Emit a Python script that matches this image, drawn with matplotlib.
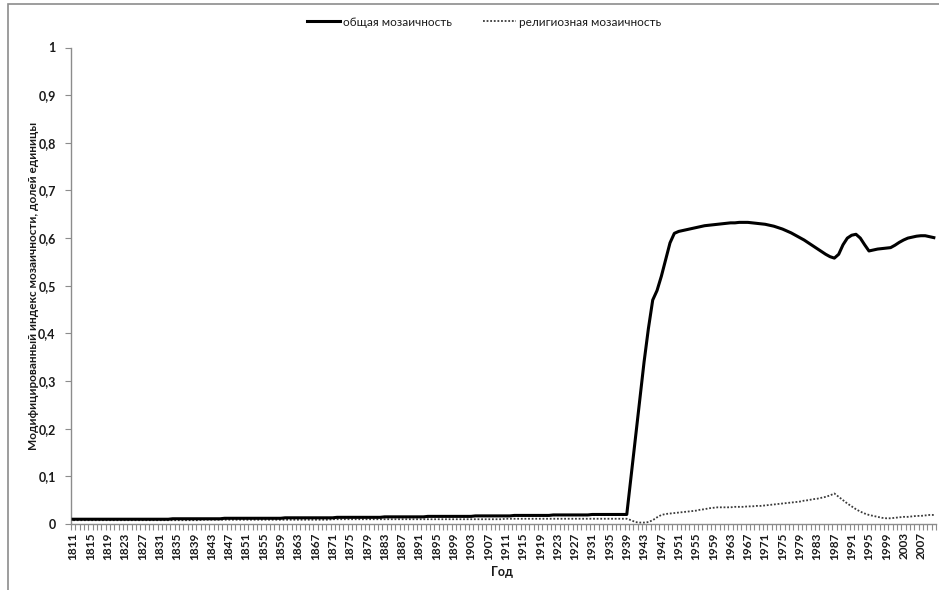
import matplotlib
matplotlib.use("Agg")
import matplotlib.pyplot as plt
from matplotlib.patches import Rectangle
from matplotlib.ticker import FixedLocator, FuncFormatter

plt.rcParams['font.family'] = ['Lato', 'DejaVu Sans']

years = list(range(1811, 2011))

# Общая мозаичность, по годам (строки по десятилетиям)
total_mosaic = [
    0.010, 0.010, 0.010, 0.010, 0.010, 0.010, 0.010, 0.010, 0.010, 0.010,  # 1811-1820
    0.010, 0.010, 0.010, 0.010, 0.010, 0.010, 0.010, 0.010, 0.010, 0.010,  # 1821-1830
    0.010, 0.010, 0.010, 0.011, 0.011, 0.011, 0.011, 0.011, 0.011, 0.011,  # 1831-1840
    0.011, 0.011, 0.011, 0.011, 0.011, 0.012, 0.012, 0.012, 0.012, 0.012,  # 1841-1850
    0.012, 0.012, 0.012, 0.012, 0.012, 0.012, 0.012, 0.012, 0.012, 0.013,  # 1851-1860
    0.013, 0.013, 0.013, 0.013, 0.013, 0.013, 0.013, 0.013, 0.013, 0.013,  # 1861-1870
    0.013, 0.014, 0.014, 0.014, 0.014, 0.014, 0.014, 0.014, 0.014, 0.014,  # 1871-1880
    0.014, 0.014, 0.015, 0.015, 0.015, 0.015, 0.015, 0.015, 0.015, 0.015,  # 1881-1890
    0.015, 0.015, 0.016, 0.016, 0.016, 0.016, 0.016, 0.016, 0.016, 0.016,  # 1891-1900
    0.016, 0.016, 0.016, 0.017, 0.017, 0.017, 0.017, 0.017, 0.017, 0.017,  # 1901-1910
    0.017, 0.017, 0.018, 0.018, 0.018, 0.018, 0.018, 0.018, 0.018, 0.018,  # 1911-1920
    0.018, 0.019, 0.019, 0.019, 0.019, 0.019, 0.019, 0.019, 0.019, 0.019,  # 1921-1930
    0.020, 0.020, 0.020, 0.020, 0.020, 0.020, 0.020, 0.020, 0.020, 0.100,  # 1931-1940
    0.180, 0.260, 0.340, 0.410, 0.470, 0.490, 0.520, 0.555, 0.590, 0.610,  # 1941-1950
    0.614, 0.616, 0.618, 0.620, 0.622, 0.624, 0.626, 0.627, 0.628, 0.629,  # 1951-1960
    0.630, 0.631, 0.632, 0.632, 0.633, 0.633, 0.633, 0.632, 0.631, 0.630,  # 1961-1970
    0.629, 0.627, 0.625, 0.622, 0.619, 0.615, 0.611, 0.606, 0.601, 0.596,  # 1971-1980
    0.590, 0.584, 0.578, 0.572, 0.566, 0.561, 0.558, 0.566, 0.586, 0.600,  # 1981-1990
    0.606, 0.608, 0.600, 0.586, 0.573, 0.575, 0.577, 0.578, 0.579, 0.580,  # 1991-2000
    0.585, 0.591, 0.596, 0.600, 0.602, 0.604, 0.605, 0.605, 0.603, 0.601,  # 2001-2010
]

# Религиозная мозаичность, по годам
religious_mosaic = [
    0.008, 0.008, 0.008, 0.008, 0.008, 0.008, 0.008, 0.008, 0.008, 0.008,  # 1811-1820
    0.008, 0.008, 0.008, 0.008, 0.008, 0.008, 0.008, 0.008, 0.008, 0.008,  # 1821-1830
    0.008, 0.008, 0.008, 0.008, 0.008, 0.008, 0.008, 0.008, 0.008, 0.008,  # 1831-1840
    0.009, 0.009, 0.009, 0.009, 0.009, 0.009, 0.009, 0.009, 0.009, 0.009,  # 1841-1850
    0.009, 0.009, 0.009, 0.009, 0.009, 0.009, 0.009, 0.009, 0.009, 0.009,  # 1851-1860
    0.009, 0.009, 0.009, 0.009, 0.009, 0.009, 0.009, 0.009, 0.009, 0.009,  # 1861-1870
    0.010, 0.010, 0.010, 0.010, 0.010, 0.010, 0.010, 0.010, 0.010, 0.010,  # 1871-1880
    0.010, 0.010, 0.010, 0.010, 0.010, 0.010, 0.010, 0.010, 0.010, 0.010,  # 1881-1890
    0.010, 0.010, 0.010, 0.010, 0.010, 0.010, 0.010, 0.010, 0.010, 0.010,  # 1891-1900
    0.010, 0.010, 0.010, 0.010, 0.010, 0.010, 0.010, 0.010, 0.010, 0.010,  # 1901-1910
    0.011, 0.011, 0.011, 0.011, 0.011, 0.011, 0.011, 0.011, 0.011, 0.011,  # 1911-1920
    0.011, 0.011, 0.011, 0.011, 0.011, 0.011, 0.011, 0.011, 0.011, 0.011,  # 1921-1930
    0.011, 0.011, 0.011, 0.011, 0.011, 0.011, 0.011, 0.011, 0.011, 0.008,  # 1931-1940
    0.004, 0.003, 0.003, 0.004, 0.008, 0.014, 0.019, 0.021, 0.022, 0.023,  # 1941-1950
    0.024, 0.025, 0.026, 0.027, 0.028, 0.030, 0.031, 0.033, 0.034, 0.035,  # 1951-1960
    0.035, 0.035, 0.035, 0.036, 0.036, 0.036, 0.037, 0.037, 0.038, 0.038,  # 1961-1970
    0.039, 0.040, 0.041, 0.042, 0.043, 0.044, 0.045, 0.046, 0.047, 0.049,  # 1971-1980
    0.050, 0.052, 0.053, 0.055, 0.057, 0.060, 0.064, 0.057, 0.050, 0.043,  # 1981-1990
    0.037, 0.031, 0.026, 0.022, 0.019, 0.017, 0.015, 0.013, 0.012, 0.012,  # 1991-2000
    0.013, 0.014, 0.015, 0.015, 0.016, 0.017, 0.017, 0.018, 0.019, 0.019,  # 2001-2010
]

y_ticks = [0.0, 0.1, 0.2, 0.3, 0.4, 0.5, 0.6, 0.7, 0.8, 0.9, 1.0]
label_years = years[::4]

W, H = 939, 590
fig = plt.figure(figsize=(W / 100, H / 100), dpi=100)

# Рамка области диаграммы
fig.patches.append(Rectangle((8 / W, -0.05), 1.1, (H - 4) / H + 0.05,
                             transform=fig.transFigure, fill=False,
                             edgecolor='#8c8c8c', linewidth=1.2))

ax = fig.add_axes([71 / W, (H - 524) / H, (936 - 71) / W, (524 - 47.5) / H])

ax.plot(years, religious_mosaic, color='#3a3a3a', linewidth=1.3,
        linestyle=(0, (1, 1)), label='религиозная мозаичность', zorder=2)
ax.plot(years, total_mosaic, color='black', linewidth=2.2,
        label='общая мозаичность', zorder=3, solid_joinstyle='round')

ax.set_xlim(years[0] - 0.5, years[-1] + 0.5)
ax.set_ylim(0, 1)

for side in ('top', 'right'):
    ax.spines[side].set_visible(False)
for side in ('left', 'bottom'):
    ax.spines[side].set_color('#8c8c8c')
    ax.spines[side].set_linewidth(1.0)

ax.set_yticks(y_ticks)
ax.yaxis.set_major_formatter(FuncFormatter(
    lambda v, p: ('%g' % round(v, 1)).replace('.', ',')))
ax.tick_params(axis='y', direction='out', length=4, color='#8c8c8c',
               labelsize=9, pad=7, labelcolor='#1a1a1a')
for lab in ax.get_yticklabels():
    lab.set_fontweight('bold')

# Подписи лет каждые 4 года, деления на границах категорий
ax.xaxis.set_major_locator(FixedLocator(label_years))
ax.xaxis.set_major_formatter(FuncFormatter(lambda v, p: str(int(round(v)))))
ax.xaxis.set_minor_locator(FixedLocator([y - 0.5 for y in years] + [years[-1] + 0.5]))
ax.tick_params(axis='x', which='major', length=0, labelsize=8.5, pad=6,
               labelrotation=90, labelcolor='#1a1a1a')
ax.tick_params(axis='x', which='minor', direction='out', length=4,
               color='#8c8c8c', width=0.8)
for lab in ax.get_xticklabels():
    lab.set_fontweight('bold')

ax.set_ylabel('Модифицированный индекс мозаичности, долей единицы',
              fontsize=8.5, fontweight='bold', color='#1a1a1a',
              va='center')
ax.yaxis.set_label_coords((34 - 71) / (936 - 71), 0.5)
ax.set_xlabel('Год', fontsize=9, fontweight='bold', color='#1a1a1a')
ax.xaxis.set_label_coords((502 - 71) / (936 - 71), -(572 - 524) / (524 - 47.5))
ax.xaxis.label.set_verticalalignment('center')

handles, labels = ax.get_legend_handles_labels()
fig.legend(handles[::-1], labels[::-1], loc='center', ncol=2,
           bbox_to_anchor=(484 / W, 1 - 22 / H), frameon=False,
           fontsize=8.5, handlelength=2.8, handletextpad=0.3,
           columnspacing=2.6, labelcolor='#1a1a1a')

fig.savefig('out.png', dpi=100)
